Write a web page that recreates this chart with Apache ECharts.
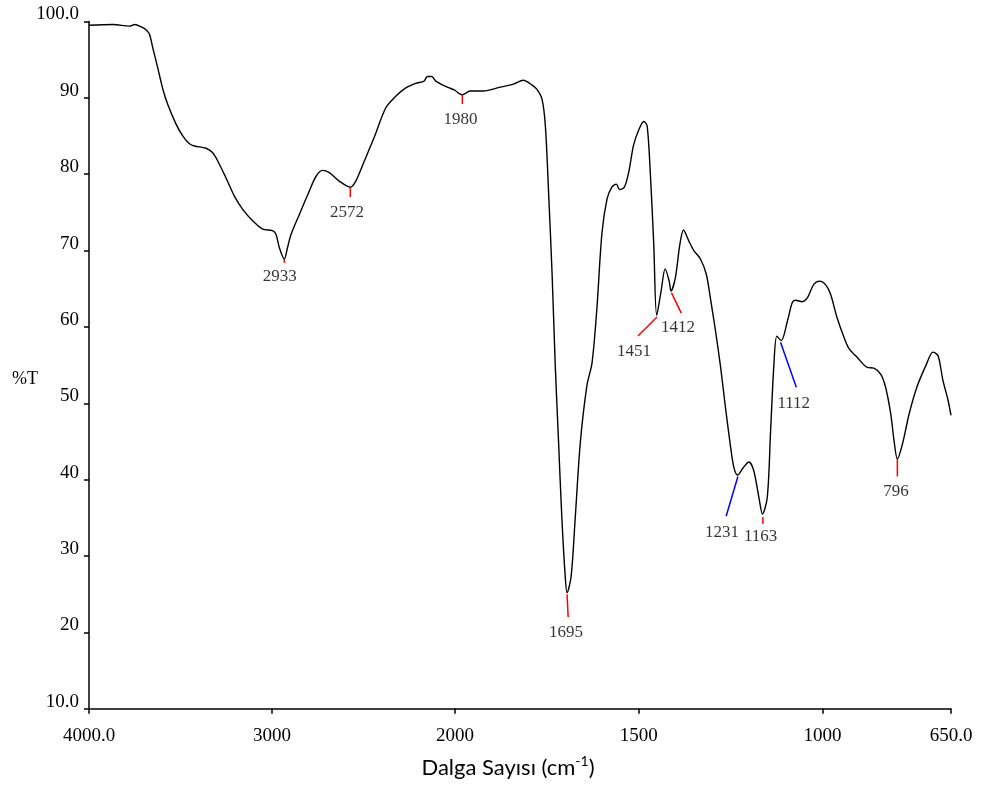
<!DOCTYPE html>
<html>
<head>
<meta charset="utf-8">
<title>FTIR spektrumu</title>
<script src="https://cdn.jsdelivr.net/npm/echarts@6/dist/echarts.min.js"></script>
<style>
  html, body { margin: 0; padding: 0; background: #fff; }
  #chart { width: 988px; height: 787px; }
</style>
</head>
<body>
<div id="chart"></div>
<script>
// spectrum (cm-1, %T)
const wavenumbers = [
  4000, 3869, 3778, 3751, 3714, 3687, 3669, 3651, 3624, 3596,
  3569, 3523, 3487, 3451, 3424, 3360, 3324, 3296, 3251, 3205,
  3160, 3106, 3051, 2997, 2978, 2960, 2933, 2915, 2896, 2851,
  2796, 2760, 2724, 2687, 2633, 2572, 2542, 2496, 2442, 2378,
  2324, 2269, 2215, 2169, 2151, 2127, 2105, 2051, 2000, 1980,
  1959, 1923, 1877, 1841, 1814, 1791, 1777, 1763, 1754, 1745,
  1736, 1727, 1718, 1709, 1700, 1695, 1684, 1673, 1659, 1641,
  1627, 1614, 1600, 1586, 1573, 1561, 1552, 1539, 1527, 1514,
  1500, 1486, 1477, 1468, 1459, 1451, 1439, 1428, 1417, 1412,
  1400, 1388, 1378, 1364, 1350, 1332, 1316, 1305, 1291, 1277,
  1264, 1250, 1241, 1231, 1215, 1200, 1187, 1173, 1163, 1150,
  1141, 1132, 1124, 1112, 1095, 1082, 1073, 1055, 1041, 1023,
  1007, 991, 978, 960, 941, 928, 905, 878, 860, 841,
  828, 814, 805, 796, 782, 764, 743, 717, 699, 685,
  672, 658, 650
];
const transmittance = [
  99.5, 99.6, 99.4, 99.6, 99.3, 98.9, 98.3, 96.5, 93.9, 91.1,
  89.1, 86.5, 85.0, 84.0, 83.7, 83.4, 82.8, 81.7, 79.5, 77.1,
  75.4, 73.9, 72.8, 72.6, 72.1, 70.4, 68.9, 70.4, 72.1, 74.7,
  77.8, 79.7, 80.5, 80.2, 79.1, 78.3, 79.1, 81.7, 84.8, 88.7,
  90.2, 91.3, 91.9, 92.2, 92.8, 92.8, 92.2, 91.5, 91.0, 90.4,
  90.9, 90.9, 91.4, 91.8, 92.3, 91.7, 91.1, 89.8, 86.3, 77.3,
  67.3, 54.8, 44.8, 34.8, 27.3, 25.2, 27.3, 34.8, 44.8, 52.3,
  55.3, 62.3, 72.3, 76.8, 78.3, 78.7, 78.0, 78.3, 80.3, 83.8,
  85.8, 86.9, 86.3, 79.8, 70.8, 61.5, 64.7, 67.6, 66.0, 64.7,
  66.5, 70.8, 72.7, 71.3, 70.0, 68.9, 66.9, 63.8, 59.5, 54.7,
  49.5, 44.3, 41.6, 40.6, 41.6, 42.3, 41.2, 37.7, 35.5, 37.7,
  46.4, 55.1, 58.8, 58.2, 60.8, 63.2, 63.5, 63.3, 63.8, 65.6,
  66.0, 65.5, 64.3, 61.2, 58.6, 57.2, 56.0, 54.7, 54.6, 53.8,
  52.1, 48.6, 45.1, 42.7, 44.7, 48.6, 52.1, 55.1, 56.7, 56.2,
  53.0, 50.4, 48.4
];

// axis ticks: the part below 2000 cm-1 is drawn at twice the scale
const xTicksHigh = [4000, 3000, 2000];
const xTicksLow = [2000, 1500, 1000, 650];
const xLabelsLow = [1500, 1000, 650];

// peak marks: name, leader line start/end, label centre (cm-1, %T)
const peakNames = ['2933', '2572', '1980', '1695', '1451', '1412', '1231', '1163', '1112', '796'];
const peakFrom = [[2933, 68.9], [2572, 78.3], [1980, 90.4], [1695, 25.0], [1450, 61.3],
                  [1411, 64.5], [1230, 40.4], [1162, 35.1], [1114, 58.0], [796, 42.7]];
const peakTo = [[2933, 68.4], [2572, 77.0], [1980, 89.2], [1692, 22.0], [1502, 58.8],
                [1384, 61.8], [1262, 35.2], [1162, 34.2], [1071, 52.1], [796, 40.4]];
const peakLabelAt = [[2957, 66.6], [2590, 75.0], [1985, 87.2], [1698, 20.0], [1513, 56.8],
                     [1393, 59.9], [1273, 33.1], [1168, 32.5], [1078, 50.0], [800, 38.5]];

const bluePeaks = ['1231', '1112'];
const serif = '"Liberation Serif", "Times New Roman", serif';
const sans = 'Lato, "Open Sans", sans-serif';

const chart = echarts.init(document.getElementById('chart'));

const points = wavenumbers.map((w, i) => [w, transmittance[i]]);
const highPart = points.filter(p => p[0] >= 2000);
const lowPart = points.filter(p => p[0] <= 2000);

const series = [
  { type: 'line', xAxisIndex: 0, yAxisIndex: 0, data: highPart },
  { type: 'line', xAxisIndex: 1, yAxisIndex: 1, data: lowPart }
].map(s => Object.assign(s, {
  symbol: 'none',
  smooth: 0.3,
  lineStyle: { color: '#000', width: 1.4 },
  silent: true,
  z: 3
}));

// leader lines
peakNames.forEach((name, i) => {
  const g = peakFrom[i][0] >= 2000 ? 0 : 1;
  series.push({
    type: 'line',
    xAxisIndex: g,
    yAxisIndex: g,
    data: [peakFrom[i], peakTo[i]],
    symbol: 'none',
    silent: true,
    lineStyle: { color: bluePeaks.includes(name) ? '#0000ff' : '#ff0000', width: 1.5 },
    z: 4
  });
});

// peak labels
[0, 1].forEach(g => {
  const items = [];
  peakNames.forEach((name, i) => {
    if ((peakLabelAt[i][0] >= 2000 ? 0 : 1) === g) {
      items.push({ name: name, value: peakLabelAt[i] });
    }
  });
  series.push({
    type: 'scatter',
    xAxisIndex: g,
    yAxisIndex: g,
    symbolSize: 0,
    silent: true,
    data: items,
    label: {
      show: true,
      position: 'inside',
      formatter: '{b}',
      color: '#000',
      fontFamily: serif,
      fontSize: 17
    }
  });
});

const axisLineStyle = { color: '#000', width: 1.5 };
const tickLabelStyle = { color: '#000', fontFamily: serif, fontSize: 19 };

const option = {
  animation: false,
  backgroundColor: '#fff',
  grid: [
    { left: 89, right: 533, top: 21.5, bottom: 78.3 },
    { left: 455, right: 37, top: 21.5, bottom: 78.3 }
  ],
  xAxis: [
    {
      gridIndex: 0, type: 'value', min: 2000, max: 4000, inverse: true,
      axisLine: { show: true, onZero: false, lineStyle: axisLineStyle },
      axisTick: { show: true, length: 5, customValues: xTicksHigh, lineStyle: axisLineStyle },
      axisLabel: Object.assign({
        customValues: xTicksHigh, margin: 18, showMinLabel: true, showMaxLabel: true,
        formatter: v => (v === 4000 ? '4000.0' : String(v))
      }, tickLabelStyle),
      splitLine: { show: false }
    },
    {
      gridIndex: 1, type: 'value', min: 650, max: 2000, inverse: true,
      axisLine: { show: true, onZero: false, lineStyle: axisLineStyle },
      axisTick: { show: true, length: 5, customValues: xTicksLow, lineStyle: axisLineStyle },
      axisLabel: Object.assign({
        customValues: xLabelsLow, margin: 18, showMinLabel: true, showMaxLabel: true,
        formatter: v => (v === 650 ? '650.0' : String(v))
      }, tickLabelStyle),
      splitLine: { show: false }
    }
  ],
  yAxis: [
    {
      gridIndex: 0, type: 'value', min: 10, max: 100, interval: 10,
      axisLine: { show: true, onZero: false, lineStyle: axisLineStyle },
      axisTick: { show: true, length: 5, lineStyle: axisLineStyle },
      axisLabel: Object.assign({
        margin: 10,
        verticalAlign: 'bottom',
        lineHeight: 14,
        formatter: v => (v === 100 ? '100.0' : v === 10 ? '10.0' : String(v))
      }, tickLabelStyle),
      splitLine: { show: false }
    },
    { gridIndex: 1, type: 'value', min: 10, max: 100, show: false, splitLine: { show: false } }
  ],
  graphic: [
    {
      type: 'text',
      left: 12,
      top: 370,
      style: { text: '%T', fill: '#000', font: '18px ' + serif }
    },
    {
      type: 'text',
      x: 508,
      y: 768,
      style: {
        text: 'Dalga Sayısı (cm{sup|-1})',
        fill: '#000',
        font: '22px ' + sans,
        align: 'center',
        verticalAlign: 'middle',
        rich: {
          sup: { fontSize: 14, fontFamily: sans, padding: [0, 0, 14, 0] }
        }
      }
    }
  ],
  series: series
};

chart.setOption(option);
</script>
</body>
</html>
